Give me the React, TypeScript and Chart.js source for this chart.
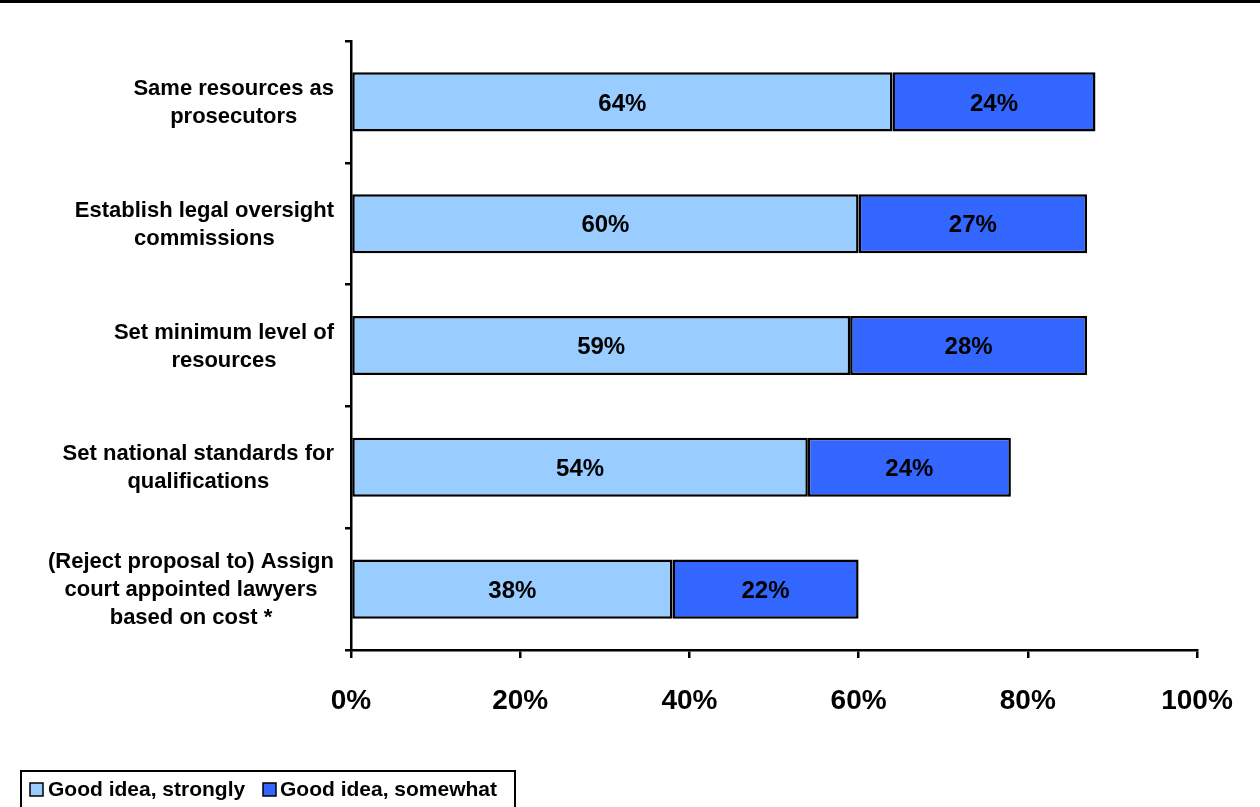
import React, { useEffect, useRef } from "react";
import { Chart, registerables } from "chart.js";

Chart.register(...registerables);

const categories: string[][] = [
  ["Same resources as", "prosecutors"],
  ["Establish legal oversight", "commissions"],
  ["Set minimum level of", "resources"],
  ["Set national standards for", "qualifications"],
  ["(Reject proposal to) Assign", "court appointed lawyers", "based on cost *"],
];
const strongly: number[] = [64, 60, 59, 54, 38];
const somewhat: number[] = [24, 27, 28, 24, 22];
const seriesNames: string[] = ["Good idea, strongly", "Good idea, somewhat"];
const seriesColors: string[] = ["#99CCFF", "#3366FF"];
const xTicks: number[] = [0, 20, 40, 60, 80, 100];

const FONT = '"Liberation Sans", Arial, Helvetica, sans-serif';

const decorPlugin = {
  id: "decor",
  afterDraw(chart: any) {
    const ctx = chart.ctx as CanvasRenderingContext2D;
    ctx.save();
    // top rule
    ctx.fillStyle = "#000";
    ctx.fillRect(0, 0, chart.width, 3);

    // data labels
    ctx.font = `bold 24px ${FONT}`;
    ctx.textAlign = "center";
    ctx.textBaseline = "middle";
    chart.data.datasets.forEach((ds: any, di: number) => {
      const meta = chart.getDatasetMeta(di);
      meta.data.forEach((el: any, i: number) => {
        const cx = (el.x + el.base) / 2;
        ctx.fillStyle = "#000";
        ctx.fillText(`${ds.data[i]}%`, cx, el.y + 2);
      });
    });

    // y category labels (block right-aligned, lines centered)
    const yScale = chart.scales.y;
    ctx.font = `bold 22px ${FONT}`;
    const right = 334;
    const lh = 28;
    categories.forEach((lines, i) => {
      const cy = yScale.getPixelForValue(i);
      const maxW = Math.max(...lines.map((l) => ctx.measureText(l).width));
      const cx = right - maxW / 2;
      const y0 = cy - ((lines.length - 1) * lh) / 2 + 1;
      lines.forEach((l, k) => {
        ctx.fillText(l, cx, y0 + k * lh);
      });
    });

    // legend
    const lx = 21, ly = 771;
    ctx.lineWidth = 2;
    ctx.strokeStyle = "#000";
    ctx.strokeRect(lx, ly, 494, 60);
    ctx.font = `bold 21px ${FONT}`;
    ctx.textAlign = "left";
    const items = [
      { sx: 30, tx: 48 },
      { sx: 263, tx: 280 },
    ];
    items.forEach((it, i) => {
      ctx.fillStyle = seriesColors[i];
      ctx.fillRect(it.sx, 783, 13, 13);
      ctx.lineWidth = 1.5;
      ctx.strokeRect(it.sx, 783, 13, 13);
      ctx.fillStyle = "#000";
      ctx.fillText(seriesNames[i], it.tx, 790);
    });
    ctx.restore();
  },
};

export default function App() {
  const ref = useRef<HTMLCanvasElement | null>(null);
  useEffect(() => {
    document.body.style.margin = "0";
    const chart = new Chart(ref.current as HTMLCanvasElement, {
      type: "bar",
      data: {
        labels: categories.map((c) => c.join(" ")),
        datasets: [
          {
            label: seriesNames[0],
            data: strongly,
            backgroundColor: seriesColors[0],
            borderColor: "#000",
            borderWidth: 2.5,
            borderSkipped: false,
            inflateAmount: 0,
            barPercentage: 0.485,
            categoryPercentage: 1,
          },
          {
            label: seriesNames[1],
            data: somewhat,
            backgroundColor: seriesColors[1],
            borderColor: "#000",
            borderWidth: 2.5,
            borderSkipped: false,
            inflateAmount: 0,
            barPercentage: 0.485,
            categoryPercentage: 1,
          },
        ],
      },
      options: {
        indexAxis: "y",
        responsive: false,
        animation: false,
        devicePixelRatio: 1,
        layout: { padding: { left: 0, top: 41, right: 63, bottom: 0 } },
        plugins: {
          legend: { display: false },
          tooltip: { enabled: false },
        },
        scales: {
          x: {
            stacked: true,
            min: 0,
            max: 100,
            afterBuildTicks: (scale: any) => {
              scale.ticks = xTicks.map((v) => ({ value: v }));
            },
            afterFit: (scale: any) => {
              scale.height = 157;
            },
            ticks: {
              callback: (v: any) => `${v}%`,
              font: { family: FONT, size: 28, weight: "bold" },
              color: "#000",
              padding: 26,
              maxRotation: 0,
              autoSkip: false,
            },
            grid: {
              drawOnChartArea: false,
              drawTicks: true,
              tickLength: 8,
              color: "#000",
              lineWidth: 2.5,
            },
            border: { display: true, color: "#000", width: 2.5 },
          },
          y: {
            stacked: true,
            afterFit: (scale: any) => {
              scale.width = 351;
            },
            ticks: { display: false },
            grid: {
              offset: true,
              drawOnChartArea: false,
              drawTicks: true,
              tickLength: 6,
              color: "#000",
              lineWidth: 2.5,
            },
            border: { display: true, color: "#000", width: 2.5 },
          },
        },
      },
      plugins: [decorPlugin],
    } as any);
    return () => chart.destroy();
  }, []);
  return (
    <div style={{ position: "absolute", left: 0, top: 0, width: 1260, height: 807, background: "#fff" }}>
      <canvas ref={ref} width={1260} height={807} style={{ width: 1260, height: 807 }} />
    </div>
  );
}
